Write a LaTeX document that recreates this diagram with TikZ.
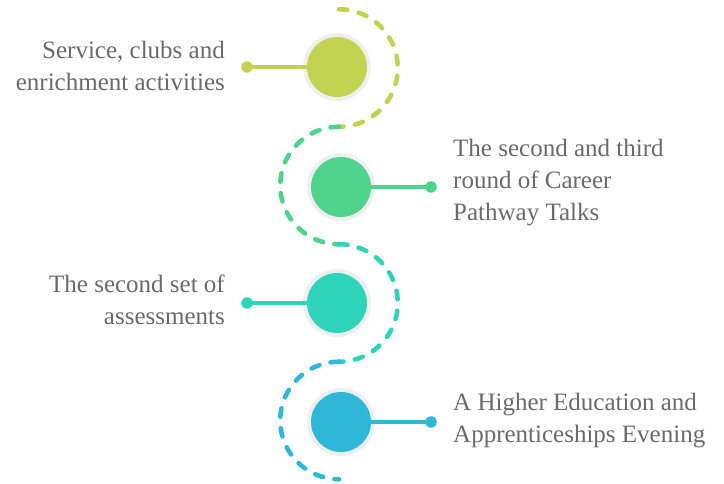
\documentclass[tikz,border=0pt]{standalone}
\usepackage{fontspec}
\setmainfont{Liberation Serif}
\definecolor{cA}{HTML}{C1D452}
\definecolor{cB}{HTML}{4FD38C}
\definecolor{cC}{HTML}{2ED4B9}
\definecolor{cD}{HTML}{2CB8D6}
\definecolor{ringc}{HTML}{EFEFEF}
\definecolor{txt}{HTML}{6A6A6A}
\begin{document}
\begin{tikzpicture}[x=1pt,y=1pt,
  ring/.style={circle,fill=ringc,minimum size=68pt,inner sep=0},
  disc/.style={circle,fill=#1,minimum size=60pt,inner sep=0},
  dotn/.style={circle,fill=#1,minimum size=11.5pt,inner sep=0},
  link/.style={draw=#1,line width=4.2pt},
  wave/.style={draw=#1,line width=4.6pt,line cap=round,dash pattern=on 8.5pt off 11.5pt},
  lbl/.style={text=txt,font=\fontsize{25}{32}\selectfont,inner sep=0}]
\useasboundingbox (0,0) rectangle (724,-484);
% dashed wave
\draw[wave=cA] (339,-9.25) arc[start angle=90,end angle=-90,radius=58.75];
\draw[wave=cB] (339,-126.75) arc[start angle=90,end angle=270,radius=58.75];
\draw[wave=cC] (339,-244.25) arc[start angle=90,end angle=-90,radius=58.75];
\draw[wave=cD] (339,-361.75) arc[start angle=90,end angle=270,radius=58.75];
% circles
\node[ring] (r1) at (337,-67) {};
\node[ring] (r2) at (341,-187) {};
\node[ring] (r3) at (337,-303) {};
\node[ring] (r4) at (341,-422) {};
\node[disc=cA] (c1) at (337,-67) {};
\node[disc=cB] (c2) at (341,-187) {};
\node[disc=cC] (c3) at (337,-303) {};
\node[disc=cD] (c4) at (341,-422) {};
% dots
\node[dotn=cA] (d1) at (247,-67) {};
\node[dotn=cB] (d2) at (431,-187) {};
\node[dotn=cC] (d3) at (247,-303) {};
\node[dotn=cD] (d4) at (431,-422) {};
\draw[link=cA] (d1.center) -- (c1);
\draw[link=cB] (d2.center) -- (c2);
\draw[link=cC] (d3.center) -- (c3);
\draw[link=cD] (d4.center) -- (c4);
% labels
\node[lbl,anchor=east,align=right] (t1) at (225,-66) {Service, clubs and\\enrichment activities};
\node[lbl,anchor=west,align=left] (t2) at (453,-183) {The second and third\\round of Career\\Pathway Talks};
\node[lbl,anchor=east,align=right] (t3) at (225,-300) {The second set of\\assessments};
\node[lbl,anchor=west,align=left] (t4) at (453,-421) {A Higher Education and\\Apprenticeships Evening};
\end{tikzpicture}
\end{document}
